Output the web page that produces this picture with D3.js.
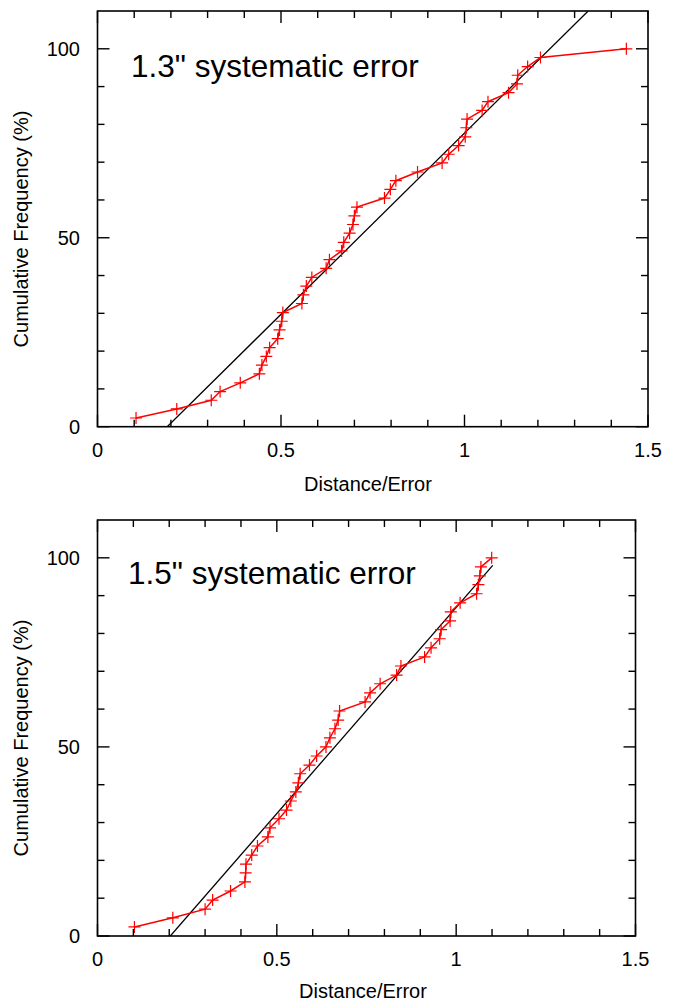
<!DOCTYPE html>
<html><head><meta charset="utf-8">
<script src="https://cdn.jsdelivr.net/npm/d3@7"></script>
<style>html,body{margin:0;padding:0;background:#fff;}svg{display:block;}</style>
</head><body>
<svg id="c" width="680" height="1003"></svg>
<script>
// ---- data ----
const topTitle = '1.3" systematic error';
const topX = [0.105,0.216,0.310,0.334,0.389,0.441,0.448,0.460,0.469,0.491,0.496,0.502,0.505,0.557,0.561,0.569,0.584,0.623,0.632,0.665,0.671,0.687,0.696,0.700,0.707,0.782,0.798,0.813,0.872,0.939,0.957,0.984,1.002,1.005,1.007,1.048,1.064,1.120,1.143,1.145,1.172,1.207,1.441];
const topY = [2.3,4.7,7.0,9.3,11.6,14.0,16.3,18.6,20.9,23.3,25.6,27.9,30.2,32.6,34.9,37.2,39.5,41.9,44.2,46.5,48.8,51.2,53.5,55.8,58.1,60.5,62.8,65.1,67.4,69.8,72.1,74.4,76.7,79.1,81.4,83.7,86.0,88.4,90.7,93.0,95.3,97.7,100];
const topFitX = [0.19, 1.337];
const topFitY = [0, 110];

const botTitle = '1.5" systematic error';
const botX = [0.103,0.210,0.300,0.321,0.371,0.411,0.413,0.414,0.430,0.446,0.475,0.481,0.506,0.527,0.539,0.553,0.560,0.565,0.591,0.611,0.637,0.648,0.662,0.671,0.675,0.746,0.760,0.788,0.834,0.846,0.912,0.930,0.954,0.958,0.983,0.985,1.011,1.057,1.062,1.066,1.069,1.099];
const botY = [2.4,4.8,7.1,9.5,11.9,14.3,16.7,19.0,21.4,23.8,26.2,28.6,31.0,33.3,35.7,38.1,40.5,42.9,45.2,47.6,50.0,52.4,54.8,57.1,59.5,61.9,64.3,66.7,69.0,71.4,73.8,76.2,78.6,81.0,83.3,85.7,88.1,90.5,92.9,95.2,97.6,100];
const botFitX = [0.203, 1.102];
const botFitY = [0, 98];

const xTickLabels = ["0","0.5","1","1.5"];
const xTickValues = [0,0.5,1,1.5];
const yTickLabels = ["0","50","100"];
const yTickValues = [0,50,100];
const xLabel = "Distance/Error";
const yLabel = "Cumulative Frequency (%)";

// ---- drawing ----
const svg = d3.select("#c");
const FONT = "'Liberation Sans', Arial, sans-serif";

function panel(cfg){
  const g = svg.append("g");
  const x = d3.scaleLinear().domain([0,1.5]).range([cfg.left, cfg.right]);
  const y = d3.scaleLinear().domain([0,110]).range([cfg.bottom, cfg.top]);
  const minorX = d3.range(0, 1.5001, 0.1).map(v=>+v.toFixed(2));
  const minorY = d3.range(0, 101, 10);
  const isMajX = v => Math.abs(v*2 - Math.round(v*2)) < 1e-6;
  const isMajY = v => v % 50 === 0;

  const cid = "clip"+cfg.id;
  svg.append("clipPath").attr("id",cid).append("rect")
    .attr("x",cfg.left).attr("y",cfg.top).attr("width",cfg.right-cfg.left).attr("height",cfg.bottom-cfg.top);
  const dg = g.append("g").attr("clip-path",`url(#${cid})`);

  const fit = cfg.fitX.map((v,i)=>[v,cfg.fitY[i]]);
  dg.append("path").attr("d", d3.line().x(d=>x(d[0])).y(d=>y(d[1]))(fit))
    .attr("fill","none").attr("stroke","#000").attr("stroke-width",1.3);

  const pts = cfg.xs.map((v,i)=>[v,cfg.ys[i]]);
  dg.append("path").attr("d", d3.line().x(d=>x(d[0])).y(d=>y(d[1]))(pts))
    .attr("fill","none").attr("stroke","#ff0000").attr("stroke-width",1.5);
  const s = 6;
  g.append("g").selectAll("path.m").data(pts).join("path")
    .attr("d", d=>{const cx=x(d[0]), cy=y(d[1]); return `M${cx-s},${cy}H${cx+s}M${cx},${cy-s}V${cy+s}`;})
    .attr("stroke","#ff0000").attr("stroke-width",1.2).attr("fill","none");

  const tk = g.append("g").attr("stroke","#000").attr("stroke-width",1.4);
  minorX.forEach(v=>{
    const L = isMajX(v)?12:7, px=x(v);
    tk.append("line").attr("x1",px).attr("x2",px).attr("y1",cfg.bottom).attr("y2",cfg.bottom-L);
    tk.append("line").attr("x1",px).attr("x2",px).attr("y1",cfg.top).attr("y2",cfg.top+L);
  });
  minorY.forEach(v=>{
    const L = isMajY(v)?12:7, py=y(v);
    tk.append("line").attr("y1",py).attr("y2",py).attr("x1",cfg.left).attr("x2",cfg.left+L);
    tk.append("line").attr("y1",py).attr("y2",py).attr("x1",cfg.right).attr("x2",cfg.right-L);
  });
  g.append("rect").attr("x",cfg.left).attr("y",cfg.top).attr("width",cfg.right-cfg.left).attr("height",cfg.bottom-cfg.top)
    .attr("fill","none").attr("stroke","#000").attr("stroke-width",1.6);

  g.append("g").selectAll("text").data(xTickValues).join("text")
    .attr("x",d=>x(d)).attr("y",cfg.bottom+30).attr("text-anchor","middle")
    .attr("font-family",FONT).attr("font-size",20).text((d,i)=>xTickLabels[i]);
  g.append("g").selectAll("text").data(yTickValues).join("text")
    .attr("x",80).attr("y",d=>y(d)+7).attr("text-anchor","end")
    .attr("font-family",FONT).attr("font-size",20).text((d,i)=>yTickLabels[i]);

  g.append("text").attr("x",cfg.xlabX).attr("y",cfg.xlabY).attr("text-anchor","middle")
    .attr("font-family",FONT).attr("font-size",20).text(xLabel);
  g.append("text").attr("transform",`translate(28,${cfg.ylabY}) rotate(-90)`).attr("text-anchor","middle")
    .attr("font-family",FONT).attr("font-size",20).text(yLabel);

  g.append("text").attr("x",cfg.titleX).attr("y",cfg.titleY)
    .attr("font-family",FONT).attr("font-size",31.5).text(cfg.title);
}

panel({id:1,left:97.5,right:648,top:11,bottom:426.7,xs:topX,ys:topY,fitX:topFitX,fitY:topFitY,
  title:topTitle,titleX:131,titleY:77,xlabX:368,xlabY:491,ylabY:229});
panel({id:2,left:97.5,right:635.5,top:520,bottom:936,xs:botX,ys:botY,fitX:botFitX,fitY:botFitY,
  title:botTitle,titleX:128,titleY:584,xlabX:363,xlabY:998,ylabY:738});
</script>
</body></html>
